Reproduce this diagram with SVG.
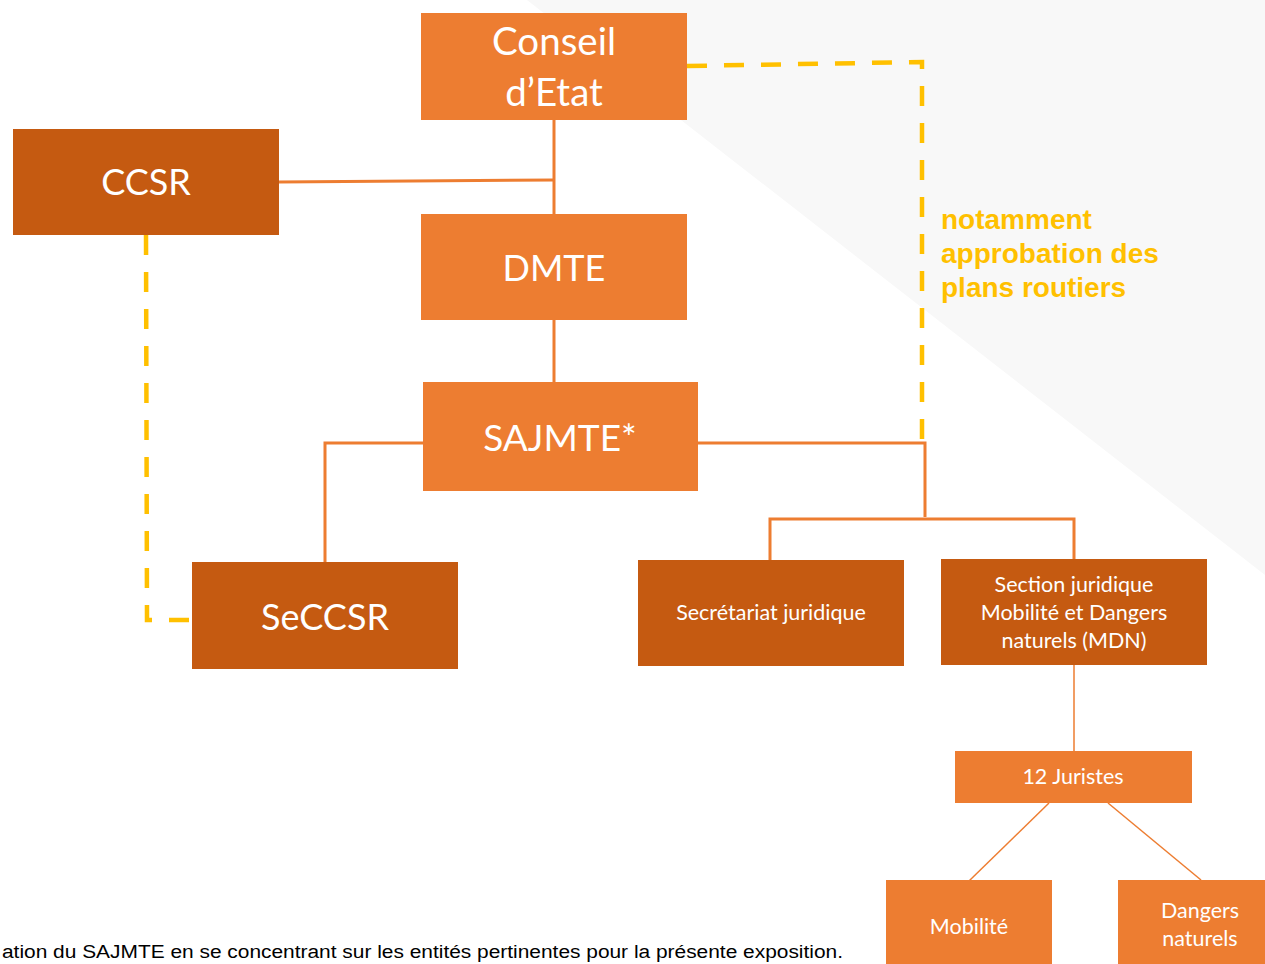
<svg xmlns="http://www.w3.org/2000/svg" width="1265" height="964" viewBox="0 0 1265 964">
<style>
.lt{fill:#ED7D31}
.dk{fill:#C55A11}
.big{font-family:Lato,"Open Sans","Liberation Sans",sans-serif;font-size:36px;fill:#fff;text-anchor:middle}
.sm{font-family:Lato,"Open Sans","Liberation Sans",sans-serif;font-size:21.5px;fill:#fff;text-anchor:middle}
.con{fill:none;stroke:#ED7D31;stroke-width:3}
.thin{fill:none;stroke:#ED7D31;stroke-width:1.5}
.dash{fill:none;stroke:#FFC000;stroke-width:4.5;stroke-dasharray:20 17}
.note{font-family:"Liberation Sans",Arial,sans-serif;font-size:28px;font-weight:bold;fill:#FFC000}
.foot{font-family:"Liberation Sans",Arial,sans-serif;font-size:18px;fill:#000}
</style>
<rect width="1265" height="964" fill="#fff"/>
<polygon points="527,0 1265,0 1265,575" fill="#F8F8F8"/>
<g id="connectors">
<line class="con" x1="554" y1="120" x2="554" y2="214"/>
<line class="con" x1="279" y1="182" x2="554" y2="180"/>
<line class="con" x1="554" y1="320" x2="554" y2="382"/>
<polyline class="con" points="423,443 325,443 325,562"/>
<polyline class="con" points="698,443 925,443 925,517"/>
<polyline class="con" points="770,560 770,519 1074,519 1074,560"/>
<line class="thin" x1="1074" y1="665" x2="1074" y2="751"/>
<line class="thin" x1="1049" y1="803" x2="969" y2="881"/>
<line class="thin" x1="1108" y1="803" x2="1201" y2="880"/>
<polyline class="dash" points="687,66 922,62 922,443"/>
<polyline class="dash" points="146,235 147,620 203,620"/>
</g>
<g id="conseil">
<rect class="lt" x="421" y="13" width="266" height="107"/>
<text class="big" x="554" y="55" style="font-size:38.5px">Conseil</text>
<text class="big" x="554" y="106" style="font-size:38.5px">d’Etat</text>
</g>
<g id="ccsr">
<rect class="dk" x="13" y="129" width="266" height="106"/>
<text class="big" x="146" y="195">CCSR</text>
</g>
<g id="dmte">
<rect class="lt" x="421" y="214" width="266" height="106"/>
<text class="big" x="554" y="281">DMTE</text>
</g>
<g id="sajmte">
<rect class="lt" x="423" y="382" width="275" height="109"/>
<text class="big" x="560" y="451" style="font-size:37px">SAJMTE*</text>
</g>
<g id="seccsr">
<rect class="dk" x="192" y="562" width="266" height="107"/>
<text class="big" x="325" y="630">SeCCSR</text>
</g>
<g id="secretariat">
<rect class="dk" x="638" y="560" width="266" height="106"/>
<text class="sm" x="771" y="620">Secrétariat juridique</text>
</g>
<g id="section">
<rect class="dk" x="941" y="559" width="266" height="106"/>
<text class="sm" x="1074" y="592">Section juridique</text>
<text class="sm" x="1074" y="620">Mobilité et Dangers</text>
<text class="sm" x="1074" y="648">naturels (MDN)</text>
</g>
<g id="juristes">
<rect class="lt" x="955" y="751" width="237" height="52"/>
<text class="sm" x="1073" y="784">12 Juristes</text>
</g>
<g id="mobilite">
<rect class="lt" x="886" y="880" width="166" height="84"/>
<text class="sm" x="969" y="934">Mobilité</text>
</g>
<g id="dangers">
<rect class="lt" x="1118" y="880" width="147" height="84"/>
<text class="sm" x="1200" y="918">Dangers</text>
<text class="sm" x="1200" y="946">naturels</text>
</g>
<g id="note">
<text class="note" x="941" y="229">notamment</text>
<text class="note" x="941" y="263">approbation des</text>
<text class="note" x="941" y="297">plans routiers</text>
</g>
<text class="foot" x="2" y="958" textLength="841" lengthAdjust="spacingAndGlyphs">ation du SAJMTE en se concentrant sur les entités pertinentes pour la présente exposition.</text>
</svg>
